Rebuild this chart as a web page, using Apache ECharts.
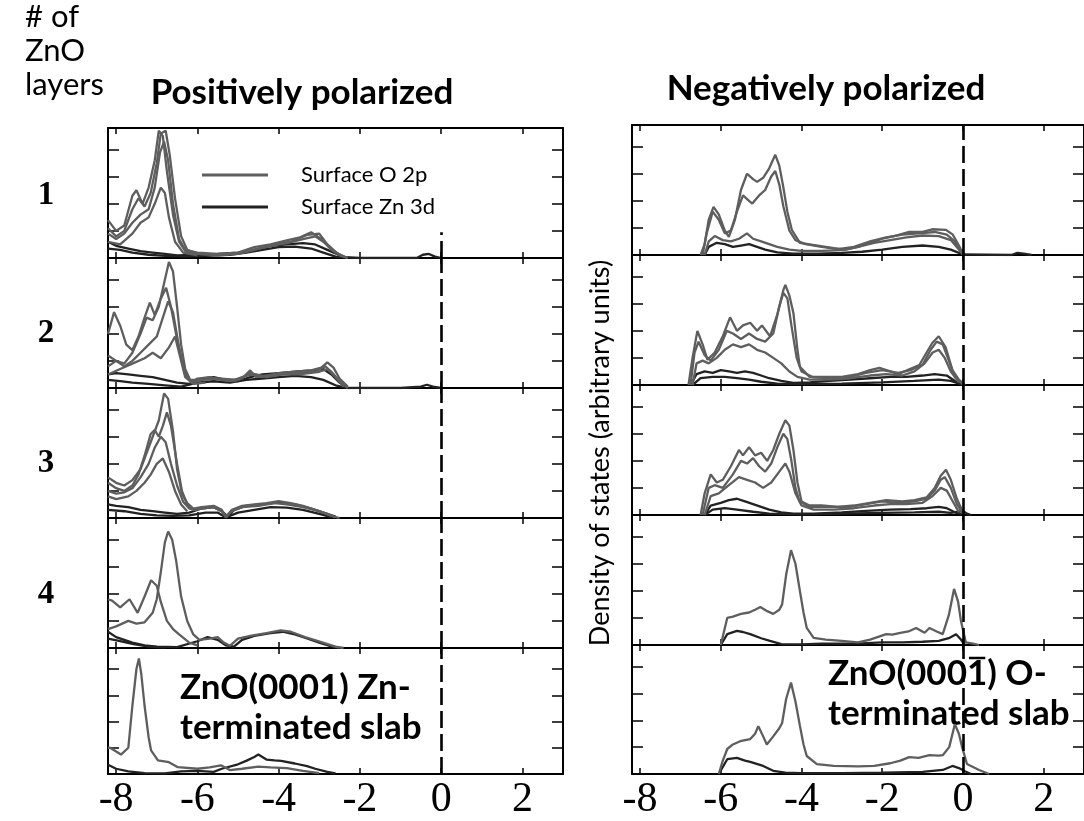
<!DOCTYPE html>
<html>
<head>
<meta charset="utf-8">
<title>Surface DOS of polar ZnO slabs</title>
<script src="https://cdn.jsdelivr.net/npm/echarts@6/dist/echarts.min.js"></script>
<style>
  html, body { margin: 0; padding: 0; background: #fff; }
  #chart { width: 1084px; height: 821px; }
</style>
</head>
<body>
<div id="chart"></div>
<script>
// Energy axis ticks (eV) and vertical ticks (arbitrary units)
const energyTicks = [-8, -6, -4, -2, 0, 2];
const dosTicks = [1, 2, 3, 4];
const layerLabels = ['1', '2', '3', '4'];

// ---- Positively polarized (Zn-terminated) column: [energy, DOS] ----
// 1 layer
const pos1a = [[-8.2,1.4],[-8.0,1.0],[-7.8,1.2],[-7.6,2.3],[-7.5,2.5],[-7.35,2.0],[-7.2,2.6],[-7.05,3.6],[-6.95,4.7],[-6.85,4.5],[-6.75,3.2],[-6.6,1.6],[-6.45,0.6],[-6.3,0.25],[-6.0,0.15],[-5.5,0.1],[-5.0,0.15],[-4.6,0.3],[-4.2,0.45],[-3.8,0.55],[-3.4,0.7],[-3.1,0.8],[-2.9,0.6],[-2.6,0.2],[-2.3,0.0]];
const pos1b = [[-8.2,1.1],[-8.0,0.8],[-7.8,1.0],[-7.6,1.8],[-7.45,2.2],[-7.3,1.9],[-7.15,2.4],[-7.0,3.5],[-6.9,4.6],[-6.78,4.7],[-6.68,3.8],[-6.55,2.2],[-6.4,0.8],[-6.25,0.3],[-6.0,0.15],[-5.4,0.12],[-4.9,0.2],[-4.5,0.35],[-4.1,0.5],[-3.7,0.6],[-3.3,0.85],[-3.0,0.9],[-2.8,0.5],[-2.5,0.1],[-2.3,0]];
const pos1c = [[-8.2,0.9],[-8.0,0.7],[-7.8,0.9],[-7.6,1.3],[-7.4,1.6],[-7.2,1.8],[-7.05,2.6],[-6.92,3.9],[-6.82,4.3],[-6.72,3.6],[-6.6,2.0],[-6.45,0.7],[-6.3,0.3],[-6.0,0.2],[-5.5,0.15],[-5.0,0.2],[-4.6,0.4],[-4.2,0.5],[-3.8,0.65],[-3.5,0.75],[-3.2,0.95],[-2.95,0.7],[-2.7,0.3],[-2.4,0.05]];
const pos1d = [[-8.2,0.6],[-7.9,0.5],[-7.6,0.9],[-7.4,1.3],[-7.2,1.5],[-7.05,2.0],[-6.9,2.6],[-6.8,2.4],[-6.7,1.5],[-6.55,0.6],[-6.35,0.2],[-6.0,0.1]];
const pos1e = [[-8.2,0.6],[-8.0,0.45],[-7.7,0.35],[-7.4,0.25],[-7.1,0.2],[-6.8,0.15],[-6.5,0.1],[-6.0,0.12],[-5.5,0.15],[-5.0,0.2],[-4.6,0.3],[-4.2,0.45],[-3.8,0.5],[-3.4,0.55],[-3.1,0.5],[-2.8,0.3],[-2.5,0.1],[-2.3,0]];
const pos1f = [[-8.2,0.35],[-7.9,0.3],[-7.6,0.2],[-7.2,0.12],[-6.8,0.08],[-6.3,0.05],[-5.8,0.08],[-5.2,0.12],[-4.8,0.2],[-4.4,0.3],[-4.0,0.4],[-3.6,0.42],[-3.2,0.35],[-2.9,0.2],[-2.6,0.05],[-2.0,0],[-0.6,0],[-0.45,0.12],[-0.3,0.15],[-0.15,0.05],[0,0]];
// 2 layers
const pos2a = [[-8.2,1.2],[-8.0,1.0],[-7.8,0.9],[-7.6,1.3],[-7.4,2.0],[-7.25,2.6],[-7.1,2.5],[-6.95,3.0],[-6.8,4.0],[-6.7,4.65],[-6.6,4.3],[-6.5,3.0],[-6.4,1.6],[-6.3,0.7],[-6.15,0.2],[-6.0,0.35],[-5.7,0.4],[-5.4,0.3],[-5.1,0.25],[-4.9,0.35],[-4.7,0.65],[-4.55,0.4],[-4.3,0.45],[-4.0,0.55],[-3.6,0.6],[-3.2,0.65],[-2.95,0.75],[-2.8,0.95],[-2.65,0.75],[-2.5,0.35],[-2.3,0.05]];
const pos2b = [[-8.2,2.0],[-8.05,2.8],[-7.9,2.3],[-7.75,1.6],[-7.6,1.4],[-7.45,1.9],[-7.3,2.6],[-7.17,3.15],[-7.05,2.7],[-6.9,3.3],[-6.77,3.7],[-6.65,3.0],[-6.5,1.8],[-6.35,0.8],[-6.2,0.3],[-6.0,0.3],[-5.6,0.35],[-5.2,0.25],[-4.8,0.45],[-4.6,0.5],[-4.3,0.4],[-3.9,0.5],[-3.5,0.55],[-3.1,0.6],[-2.85,0.8],[-2.7,0.6],[-2.5,0.25],[-2.3,0]];
const pos2c = [[-8.2,0.8],[-8.0,1.0],[-7.8,0.8],[-7.6,1.0],[-7.4,1.3],[-7.2,1.6],[-7.0,1.9],[-6.85,2.6],[-6.72,3.2],[-6.6,2.8],[-6.45,1.5],[-6.3,0.5],[-6.15,0.2],[-5.9,0.3],[-5.5,0.35],[-5.0,0.3],[-4.7,0.55],[-4.4,0.45],[-4.0,0.5],[-3.5,0.5],[-3.0,0.6],[-2.8,0.7],[-2.6,0.4],[-2.4,0.05]];
const pos2d = [[-8.2,0.5],[-7.9,0.7],[-7.6,0.9],[-7.3,1.1],[-7.1,1.3],[-6.9,1.1],[-6.7,1.5],[-6.55,1.9],[-6.45,1.3],[-6.3,0.4],[-6.1,0.15],[-5.8,0.2]];
const pos2e = [[-8.2,0.5],[-8.0,0.55],[-7.7,0.5],[-7.4,0.45],[-7.1,0.4],[-6.8,0.3],[-6.5,0.2],[-6.2,0.15],[-5.9,0.35],[-5.6,0.4],[-5.3,0.3],[-5.0,0.25],[-4.7,0.4],[-4.4,0.5],[-4.0,0.55],[-3.6,0.6],[-3.2,0.65],[-2.9,0.7],[-2.7,0.5],[-2.5,0.2],[-2.3,0]];
const pos2f = [[-8.2,0.3],[-7.9,0.25],[-7.6,0.2],[-7.2,0.15],[-6.8,0.1],[-6.4,0.05],[-6.0,0.2],[-5.6,0.25],[-5.2,0.2],[-4.8,0.3],[-4.4,0.35],[-4.0,0.4],[-3.6,0.45],[-3.2,0.4],[-2.9,0.3],[-2.6,0.1],[-2.3,0],[-1.0,0],[-0.5,0.05],[-0.35,0.12],[-0.2,0.05],[0,0]];
// 3 layers
const pos3a = [[-8.2,1.5],[-8.0,1.3],[-7.8,1.2],[-7.6,1.4],[-7.4,1.8],[-7.25,2.4],[-7.1,3.0],[-6.95,3.6],[-6.82,4.6],[-6.72,4.4],[-6.6,3.2],[-6.5,1.8],[-6.38,0.9],[-6.25,0.55],[-6.1,0.35],[-5.9,0.4],[-5.6,0.45],[-5.4,0.3],[-5.3,0.05],[-5.15,0.3],[-4.9,0.45],[-4.6,0.5],[-4.3,0.55],[-4.0,0.62],[-3.7,0.55],[-3.4,0.45],[-3.1,0.3],[-2.8,0.15],[-2.6,0.02]];
const pos3b = [[-8.2,1.3],[-8.0,1.1],[-7.8,1.0],[-7.6,1.2],[-7.45,1.6],[-7.3,2.3],[-7.15,3.1],[-7.05,3.25],[-6.95,3.0],[-6.85,3.4],[-6.75,3.9],[-6.65,3.4],[-6.5,2.0],[-6.38,1.0],[-6.25,0.5],[-6.1,0.3],[-5.9,0.35],[-5.6,0.4],[-5.4,0.25],[-5.3,0.02],[-5.15,0.25],[-4.9,0.4],[-4.5,0.45],[-4.1,0.55],[-3.8,0.5],[-3.4,0.4],[-3.0,0.25],[-2.7,0.08],[-2.5,0]];
const pos3c = [[-8.2,1.0],[-8.0,0.9],[-7.8,0.95],[-7.6,1.1],[-7.4,1.5],[-7.2,2.0],[-7.05,2.6],[-6.9,3.0],[-6.78,2.8],[-6.65,2.0],[-6.5,1.2],[-6.35,0.6],[-6.2,0.35],[-6.0,0.3]];
const pos3d = [[-8.2,0.8],[-8.0,0.7],[-7.7,0.8],[-7.5,1.0],[-7.3,1.3],[-7.15,1.6],[-7.0,2.0],[-6.85,2.2],[-6.7,1.7],[-6.55,1.0],[-6.4,0.5],[-6.25,0.25]];
const pos3e = [[-8.2,0.5],[-8.0,0.45],[-7.7,0.4],[-7.4,0.3],[-7.1,0.25],[-6.8,0.2],[-6.5,0.15],[-6.2,0.2],[-5.9,0.35],[-5.6,0.4],[-5.4,0.25],[-5.25,0.05],[-5.1,0.3],[-4.8,0.45],[-4.4,0.5],[-4.0,0.58],[-3.6,0.5],[-3.2,0.35],[-2.9,0.2],[-2.6,0.05]];
const pos3f = [[-8.2,0.3],[-7.8,0.25],[-7.4,0.15],[-7.0,0.1],[-6.6,0.08],[-6.2,0.1],[-5.8,0.2],[-5.5,0.2],[-5.3,0.02],[-5.0,0.2],[-4.6,0.3],[-4.2,0.4],[-3.8,0.38],[-3.4,0.3],[-3.0,0.15],[-2.7,0.03]];
// 4 layers
const pos4a = [[-8.2,0.7],[-8.0,0.8],[-7.7,1.0],[-7.5,0.9],[-7.3,0.95],[-7.1,1.3],[-7.0,1.8],[-6.9,2.8],[-6.8,3.9],[-6.72,4.3],[-6.62,4.0],[-6.52,3.2],[-6.4,1.9],[-6.25,1.0],[-6.1,0.5],[-5.95,0.3],[-5.7,0.35],[-5.5,0.4],[-5.35,0.2],[-5.2,0.08],[-5.0,0.35],[-4.7,0.45],[-4.3,0.55],[-3.95,0.65],[-3.7,0.6],[-3.35,0.4],[-2.95,0.22],[-2.6,0.05],[-2.4,0]];
const pos4b = [[-8.2,1.8],[-8.1,1.75],[-7.9,1.5],[-7.67,1.8],[-7.47,1.3],[-7.3,1.9],[-7.14,2.5],[-7.0,2.3],[-6.9,1.7],[-6.75,1.0],[-6.6,0.7],[-6.45,0.5],[-6.2,0.2],[-6.0,0.1]];
const pos4c = [[-8.2,0.6],[-8.0,0.4],[-7.8,0.3],[-7.6,0.2],[-7.3,0.1],[-7.0,0.05],[-6.5,0.03],[-6.0,0.25],[-5.75,0.4],[-5.5,0.3],[-5.3,0.1],[-5.1,0.05],[-4.9,0.3],[-4.6,0.45],[-4.2,0.55],[-3.9,0.6],[-3.6,0.5],[-3.3,0.35],[-3.0,0.2],[-2.7,0.06],[-2.5,0]];
const pos4d = [[-8.2,0.35],[-7.9,0.25],[-7.6,0.15],[-7.2,0.05],[-6.8,0.02]];
// slab
const pos5a = [[-8.2,1.0],[-8.15,1.0],[-7.88,0.74],[-7.7,1.0],[-7.6,2.6],[-7.5,4.0],[-7.44,4.4],[-7.38,3.8],[-7.3,2.6],[-7.2,1.4],[-7.14,0.9],[-6.97,0.52],[-6.7,0.45],[-6.48,0.26],[-6.0,0.2],[-5.7,0.25],[-5.42,0.33],[-5.2,0.15],[-4.9,0.2],[-4.5,0.28],[-4.2,0.25],[-3.8,0.22],[-3.4,0.12],[-3.0,0.03]];
const pos5b = [[-8.2,0.35],[-8.0,0.2],[-7.7,0.1],[-7.3,0.03],[-6.8,0.02],[-6.4,0.1],[-6.0,0.12],[-5.6,0.08],[-5.4,0.2],[-5.0,0.37],[-4.8,0.5],[-4.6,0.65],[-4.5,0.74],[-4.3,0.55],[-4.1,0.52],[-3.94,0.5],[-3.6,0.4],[-3.3,0.3],[-3.1,0.2],[-2.8,0.08],[-2.6,0.02]];

// ---- Negatively polarized (O-terminated) column ----
// 1 layer
const neg1a = [[-6.5,0],[-6.4,0.4],[-6.3,1.3],[-6.18,1.78],[-6.05,1.5],[-5.9,0.9],[-5.8,0.67],[-5.65,1.3],[-5.5,2.4],[-5.35,3.0],[-5.2,2.8],[-5.1,2.7],[-4.95,2.85],[-4.8,3.2],[-4.65,3.7],[-4.55,3.3],[-4.45,2.5],[-4.35,1.6],[-4.24,0.93],[-4.04,0.45],[-3.6,0.35],[-3.2,0.25],[-2.9,0.2],[-2.6,0.3],[-2.3,0.45],[-2.0,0.6],[-1.7,0.7],[-1.33,0.85],[-1.0,0.85],[-0.76,0.95],[-0.42,0.93],[-0.25,0.75],[-0.1,0.35],[0,0.05]];
const neg1b = [[-6.45,0],[-6.35,0.8],[-6.2,1.6],[-6.05,1.3],[-5.9,0.8],[-5.75,0.9],[-5.6,1.6],[-5.45,2.2],[-5.3,2.0],[-5.22,1.9],[-5.05,2.2],[-4.9,2.4],[-4.75,2.9],[-4.65,3.1],[-4.55,2.6],[-4.45,1.8],[-4.3,0.9],[-4.15,0.55],[-3.9,0.4],[-3.5,0.3],[-3.1,0.22],[-2.7,0.3],[-2.3,0.5],[-1.9,0.65],[-1.5,0.75],[-1.1,0.8],[-0.7,0.85],[-0.4,0.75],[-0.2,0.5],[-0.05,0.1]];
const neg1c = [[-6.4,0],[-6.3,0.5],[-6.15,0.7],[-5.95,0.55],[-5.75,0.5],[-5.55,0.6],[-5.35,0.8],[-5.2,0.6],[-5.0,0.5],[-4.8,0.4],[-4.6,0.3],[-4.3,0.2],[-4.0,0.15],[-3.5,0.15],[-3.0,0.18],[-2.6,0.3],[-2.2,0.45],[-1.8,0.55],[-1.4,0.65],[-1.0,0.72],[-0.6,0.7],[-0.3,0.55],[-0.1,0.2],[0,0.02]];
const neg1d = [[-6.4,0],[-6.3,0.3],[-6.1,0.45],[-5.9,0.4],[-5.7,0.3],[-5.5,0.35],[-5.3,0.4],[-5.1,0.3],[-4.9,0.2],[-4.6,0.1],[-4.2,0.05],[-3.6,0.05],[-3.0,0.08],[-2.5,0.12],[-2.0,0.2],[-1.5,0.3],[-1.0,0.35],[-0.6,0.3],[-0.3,0.2],[0,0.02],[1.2,0],[1.35,0.08],[1.5,0.05],[1.7,0]];
// 2 layers
const neg2a = [[-6.8,0],[-6.7,1.0],[-6.58,2.0],[-6.45,1.5],[-6.33,0.93],[-6.15,1.2],[-5.95,1.8],[-5.77,2.5],[-5.6,2.0],[-5.45,2.2],[-5.27,2.3],[-5.1,2.0],[-4.98,2.2],[-4.78,1.8],[-4.6,2.6],[-4.45,3.5],[-4.4,3.7],[-4.3,3.3],[-4.2,2.65],[-4.1,1.3],[-4.04,0.67],[-3.8,0.3],[-3.4,0.3],[-3.0,0.3],[-2.6,0.4],[-2.3,0.55],[-2.07,0.63],[-1.8,0.5],[-1.6,0.4],[-1.3,0.6],[-1.08,0.74],[-0.9,1.2],[-0.76,1.55],[-0.6,1.8],[-0.43,1.4],[-0.26,0.55],[-0.1,0.2],[0.05,0]];
const neg2b = [[-6.75,0],[-6.65,1.2],[-6.55,1.6],[-6.4,1.1],[-6.25,0.9],[-6.05,1.3],[-5.85,2.0],[-5.7,1.9],[-5.5,1.7],[-5.3,1.9],[-5.1,1.7],[-4.9,1.6],[-4.7,1.9],[-4.55,2.9],[-4.45,3.4],[-4.35,3.2],[-4.25,2.2],[-4.12,1.0],[-4.0,0.5],[-3.7,0.28],[-3.2,0.25],[-2.8,0.3],[-2.4,0.45],[-2.0,0.55],[-1.6,0.45],[-1.3,0.55],[-1.0,0.75],[-0.8,1.3],[-0.65,1.6],[-0.5,1.5],[-0.35,0.9],[-0.2,0.3],[0,0.02]];
const neg2c = [[-6.7,0],[-6.6,0.8],[-6.45,0.9],[-6.3,0.8],[-6.1,1.0],[-5.9,1.3],[-5.7,1.5],[-5.5,1.4],[-5.3,1.5],[-5.1,1.3],[-4.9,1.2],[-4.7,1.0],[-4.5,0.8],[-4.3,0.5],[-4.1,0.3],[-3.8,0.2],[-3.3,0.2],[-2.8,0.25],[-2.3,0.35],[-1.9,0.4],[-1.5,0.35],[-1.2,0.5],[-0.95,0.8],[-0.75,1.2],[-0.6,1.3],[-0.45,1.0],[-0.3,0.5],[-0.1,0.1]];
const neg2d = [[-6.75,0],[-6.6,0.4],[-6.4,0.5],[-6.2,0.45],[-6.0,0.55],[-5.8,0.5],[-5.6,0.45],[-5.4,0.5],[-5.2,0.45],[-5.0,0.35],[-4.8,0.25],[-4.5,0.15],[-4.2,0.08],[-3.8,0.1],[-3.3,0.15],[-2.8,0.2],[-2.3,0.25],[-1.8,0.3],[-1.4,0.3],[-1.0,0.35],[-0.7,0.4],[-0.4,0.35],[-0.2,0.15],[0,0]];
const neg2e = [[-6.7,0],[-6.5,0.25],[-6.2,0.3],[-5.9,0.3],[-5.6,0.25],[-5.3,0.2],[-5.0,0.12],[-4.6,0.05],[-4.0,0.03],[-3.0,0.05],[-2.0,0.1],[-1.2,0.15],[-0.6,0.2],[-0.3,0.15],[0,0]];
// 3 layers
const neg3a = [[-6.5,0],[-6.4,0.8],[-6.25,1.5],[-6.1,1.2],[-5.95,1.3],[-5.75,1.8],[-5.55,2.4],[-5.45,2.2],[-5.3,2.5],[-5.15,2.2],[-5.0,2.3],[-4.85,2.0],[-4.7,2.4],[-4.55,3.0],[-4.4,3.5],[-4.3,3.3],[-4.2,2.4],[-4.1,1.2],[-4.0,0.5],[-3.8,0.35],[-3.5,0.35],[-3.1,0.3],[-2.7,0.35],[-2.3,0.45],[-1.9,0.55],[-1.5,0.5],[-1.2,0.55],[-0.9,0.65],[-0.7,1.0],[-0.55,1.45],[-0.42,1.67],[-0.3,1.3],[-0.15,0.6],[0,0.1]];
const neg3b = [[-6.45,0],[-6.3,1.0],[-6.15,1.1],[-5.95,1.0],[-5.7,1.5],[-5.5,2.0],[-5.35,1.9],[-5.2,2.1],[-5.05,1.8],[-4.9,1.6],[-4.75,1.9],[-4.6,2.5],[-4.45,3.0],[-4.35,2.8],[-4.25,2.0],[-4.15,1.0],[-4.05,0.5],[-3.8,0.3],[-3.3,0.3],[-2.8,0.3],[-2.4,0.4],[-2.0,0.5],[-1.6,0.45],[-1.2,0.5],[-0.9,0.6],[-0.7,0.9],[-0.55,1.3],[-0.45,1.4],[-0.3,1.0],[-0.15,0.4],[0,0.05]];
const neg3c = [[-6.4,0],[-6.25,0.7],[-6.05,0.8],[-5.8,1.1],[-5.55,1.4],[-5.35,1.3],[-5.15,1.2],[-4.95,1.0],[-4.75,1.2],[-4.55,1.6],[-4.4,1.9],[-4.3,1.6],[-4.15,0.8],[-4.0,0.35],[-3.7,0.2],[-3.2,0.2],[-2.7,0.25],[-2.2,0.35],[-1.8,0.4],[-1.4,0.4],[-1.0,0.45],[-0.75,0.7],[-0.55,1.0],[-0.4,0.9],[-0.25,0.5],[-0.1,0.1]];
const neg3d = [[-6.4,0],[-6.25,0.35],[-6.0,0.45],[-5.8,0.55],[-5.6,0.6],[-5.4,0.5],[-5.2,0.4],[-5.0,0.3],[-4.8,0.2],[-4.5,0.1],[-4.2,0.05],[-3.7,0.05],[-3.0,0.1],[-2.4,0.15],[-1.8,0.2],[-1.3,0.22],[-0.9,0.25],[-0.6,0.3],[-0.4,0.25],[-0.2,0.1],[0,0.02]];
const neg3e = [[-6.4,0],[-6.2,0.2],[-5.9,0.25],[-5.6,0.2],[-5.2,0.12],[-4.8,0.05],[-4.0,0.02],[-3.0,0.05],[-2.0,0.08],[-1.2,0.1],[-0.6,0.12],[-0.3,0.08],[0,0.15],[0.1,0.05],[0.2,0]];
// 4 layers
const neg4a = [[-6.0,0],[-5.84,1.0],[-5.7,1.05],[-5.5,1.15],[-5.3,1.2],[-5.15,1.3],[-5.02,1.4],[-4.85,1.25],[-4.7,1.15],[-4.55,1.3],[-4.48,1.5],[-4.38,2.6],[-4.26,3.5],[-4.15,3.0],[-4.04,2.0],[-3.95,1.2],[-3.87,0.63],[-3.7,0.26],[-3.4,0.2],[-3.0,0.15],[-2.6,0.1],[-2.3,0.2],[-2.1,0.3],[-1.9,0.4],[-1.75,0.38],[-1.55,0.45],[-1.35,0.5],[-1.16,0.63],[-0.95,0.45],[-0.83,0.63],[-0.65,0.5],[-0.5,0.4],[-0.35,1.1],[-0.22,2.07],[-0.12,1.6],[-0.05,0.9],[0.07,0.1],[0.25,0.05],[0.4,0]];
const neg4b = [[-6.0,0],[-5.84,0.4],[-5.6,0.52],[-5.45,0.48],[-5.27,0.4],[-5.0,0.25],[-4.78,0.15],[-4.5,0.03],[-4.0,0.02],[-3.5,0.05],[-3.0,0.05],[-2.5,0.06],[-2.0,0.1],[-1.5,0.1],[-1.0,0.12],[-0.6,0.15],[-0.35,0.25],[-0.17,0.4],[-0.05,0.2],[0.05,0]];
// slab
const neg5a = [[-6.05,0],[-5.95,0.5],[-5.84,0.93],[-5.7,1.1],[-5.52,1.22],[-5.27,1.3],[-5.15,1.5],[-5.07,1.78],[-4.95,1.4],[-4.86,1.1],[-4.7,1.4],[-4.55,1.7],[-4.48,1.9],[-4.38,2.8],[-4.26,3.4],[-4.15,2.7],[-4.04,1.8],[-3.95,1.1],[-3.87,0.67],[-3.62,0.37],[-3.2,0.3],[-2.6,0.28],[-2.2,0.3],[-1.8,0.4],[-1.55,0.5],[-1.33,0.63],[-1.1,0.6],[-0.83,0.7],[-0.6,0.68],[-0.5,0.7],[-0.34,1.0],[-0.2,1.85],[-0.1,1.5],[-0.02,1.0],[0.1,0.37],[0.4,0.15],[0.65,0]];
const neg5b = [[-6.05,0],[-5.84,0.55],[-5.6,0.6],[-5.4,0.5],[-5.27,0.45],[-4.95,0.3],[-4.7,0.12],[-4.4,0.05],[-4.0,0.03],[-3.0,0.03],[-2.0,0.05],[-1.0,0.08],[-0.5,0.15],[-0.26,0.3],[-0.1,0.22],[0.05,0.1],[0.2,0]];

const O2P = 'Surface O 2p';
const ZN3D = 'Surface Zn 3d';

// Panels, top to bottom; each lists its O 2p and Zn 3d curves
const panels = [
  { col: 0, row: 0, o: [pos1a, pos1b, pos1c, pos1d], zn: [pos1e, pos1f] },
  { col: 0, row: 1, o: [pos2a, pos2b, pos2c, pos2d], zn: [pos2e, pos2f] },
  { col: 0, row: 2, o: [pos3a, pos3b, pos3c, pos3d], zn: [pos3e, pos3f] },
  { col: 0, row: 3, o: [pos4a, pos4b], zn: [pos4c, pos4d] },
  { col: 0, row: 4, o: [pos5a], zn: [pos5b] },
  { col: 1, row: 0, o: [neg1a, neg1b, neg1c], zn: [neg1d] },
  { col: 1, row: 1, o: [neg2a, neg2b, neg2c], zn: [neg2d, neg2e] },
  { col: 1, row: 2, o: [neg3a, neg3b, neg3c], zn: [neg3d, neg3e] },
  { col: 1, row: 3, o: [neg4a], zn: [neg4b] },
  { col: 1, row: 4, o: [neg5a], zn: [neg5b] }
];

// Layout of the two columns of stacked panels
const colLeft = [108, 632];
const colTop = [128, 125];
const panelW = 455;
const panelH = 130;
const E_MIN = -8.2, E_MAX = 3;
const Y_MAX = 4.8;

const COLOR_O = '#5e5e5e';
const COLOR_ZN = '#222222';
const TEXT_FONT = 'Lato, "Open Sans", sans-serif';
const NUM_FONT = '"Liberation Serif", "DejaVu Serif", serif';

const grids = [], xAxes = [], yAxes = [], series = [];
const axisLine = { show: true, onZero: false, lineStyle: { color: '#000', width: 2 } };

panels.forEach((p, i) => {
  grids.push({
    left: colLeft[p.col],
    top: colTop[p.col] + p.row * panelH,
    width: panelW,
    height: panelH,
    containLabel: false
  });
  const isBottom = p.row === 4;
  ['bottom', 'top'].forEach((pos) => {
    xAxes.push({
      gridIndex: i, type: 'value', position: pos,
      min: E_MIN, max: E_MAX,
      axisLine: axisLine,
      axisTick: { show: true, inside: true, length: 6, customValues: energyTicks, lineStyle: { color: '#000', width: 1.5 } },
      axisLabel: {
        show: isBottom && pos === 'bottom',
        customValues: energyTicks,
        fontSize: 42, color: '#000', fontFamily: NUM_FONT, margin: 5
      },
      splitLine: { show: false }
    });
  });
  ['left', 'right'].forEach((pos) => {
    yAxes.push({
      gridIndex: i, type: 'value', position: pos,
      min: 0, max: Y_MAX,
      axisLine: axisLine,
      axisTick: { show: true, inside: true, length: 11, customValues: dosTicks, lineStyle: { color: '#000', width: 1.5 } },
      axisLabel: { show: false },
      splitLine: { show: false }
    });
  });

  // Fermi level: dashed line at E = 0 (the legend covers the upper part of the first panel)
  const fermiTop = (p.col === 0 && p.row === 0) ? 0.95 : Y_MAX;
  series.push({
    type: 'line', xAxisIndex: 2 * i, yAxisIndex: 2 * i,
    data: [], silent: true,
    markLine: {
      symbol: 'none', silent: true, animation: false,
      label: { show: false },
      lineStyle: { color: '#000', width: 2.6, type: [17, 6] },
      data: [[{ coord: [0, 0] }, { coord: [0, fermiTop] }]]
    }
  });

  p.zn.forEach((d) => series.push({
    type: 'line', name: ZN3D, xAxisIndex: 2 * i, yAxisIndex: 2 * i,
    data: d, showSymbol: false, symbol: 'none', silent: true,
    lineStyle: { color: COLOR_ZN, width: 2.3 }, itemStyle: { color: COLOR_ZN }
  }));
  p.o.forEach((d) => series.push({
    type: 'line', name: O2P, xAxisIndex: 2 * i, yAxisIndex: 2 * i,
    data: d, showSymbol: false, symbol: 'none', silent: true,
    lineStyle: { color: COLOR_O, width: 2.3 }, itemStyle: { color: COLOR_O }
  }));
});

const txt = (x, y, text, size, opts) => Object.assign({
  type: 'text', x: x, y: y, silent: true,
  style: Object.assign({
    text: text, fill: '#000', fontSize: size, fontFamily: TEXT_FONT,
    textAlign: 'left', textVerticalAlign: 'middle'
  }, opts || {})
});

// Slab labels; the O-terminated one carries a bar over the last Miller index
const slabFontSize = 35;
const slabFont = 'bold ' + slabFontSize + 'px Lato';
const measureCtx = document.createElement('canvas').getContext('2d');
measureCtx.font = slabFont;
const negLabelX = 828, negLabelY = 674;
const barStart = negLabelX + measureCtx.measureText('ZnO(000').width;
const barWidth = measureCtx.measureText('1').width;

const graphics = [
  txt(25, 17, '# of', 31),
  txt(25, 51, 'ZnO', 31),
  txt(25, 85, 'layers', 31),
  txt(302, 93, 'Positively polarized', 35, { fontWeight: 'bold', textAlign: 'center' }),
  txt(826, 89, 'Negatively polarized', 35, { fontWeight: 'bold', textAlign: 'center' }),
  txt(180, 688, 'ZnO(0001) Zn-', slabFontSize, { fontWeight: 'bold' }),
  txt(180, 728, 'terminated slab', slabFontSize, { fontWeight: 'bold' }),
  txt(negLabelX, negLabelY, 'ZnO(0001) O-', slabFontSize, { fontWeight: 'bold' }),
  txt(negLabelX, negLabelY + 40, 'terminated slab', slabFontSize, { fontWeight: 'bold' }),
  {
    type: 'line', silent: true,
    shape: { x1: barStart + 2, y1: negLabelY - 16, x2: barStart + barWidth - 2, y2: negLabelY - 16 },
    style: { stroke: '#000', lineWidth: 2.5 }
  },
  {
    type: 'text', x: 600, y: 453, rotation: Math.PI / 2, silent: true,
    style: {
      text: 'Density of states (arbitrary units)', fill: '#000', fontSize: 27,
      fontFamily: TEXT_FONT, textAlign: 'center', textVerticalAlign: 'middle'
    }
  }
];
const layerLabelY = [195, 333, 463, 594];
layerLabels.forEach((t, k) => {
  graphics.push(txt(46, layerLabelY[k], t, 33, { fontWeight: 'bold', fontFamily: NUM_FONT, textAlign: 'center' }));
});

const chart = echarts.init(document.getElementById('chart'), null, { renderer: 'canvas' });
chart.setOption({
  backgroundColor: '#fff',
  animation: false,
  grid: grids,
  xAxis: xAxes,
  yAxis: yAxes,
  legend: {
    data: [O2P, ZN3D],
    orient: 'vertical',
    left: 197, top: 158,
    icon: 'rect', itemWidth: 66, itemHeight: 3, itemGap: 8,
    selectedMode: false,
    textStyle: { fontSize: 22, fontFamily: TEXT_FONT, color: '#000', lineHeight: 24, padding: [0, 0, 0, 28] }
  },
  graphic: graphics,
  series: series
});
</script>
</body>
</html>
